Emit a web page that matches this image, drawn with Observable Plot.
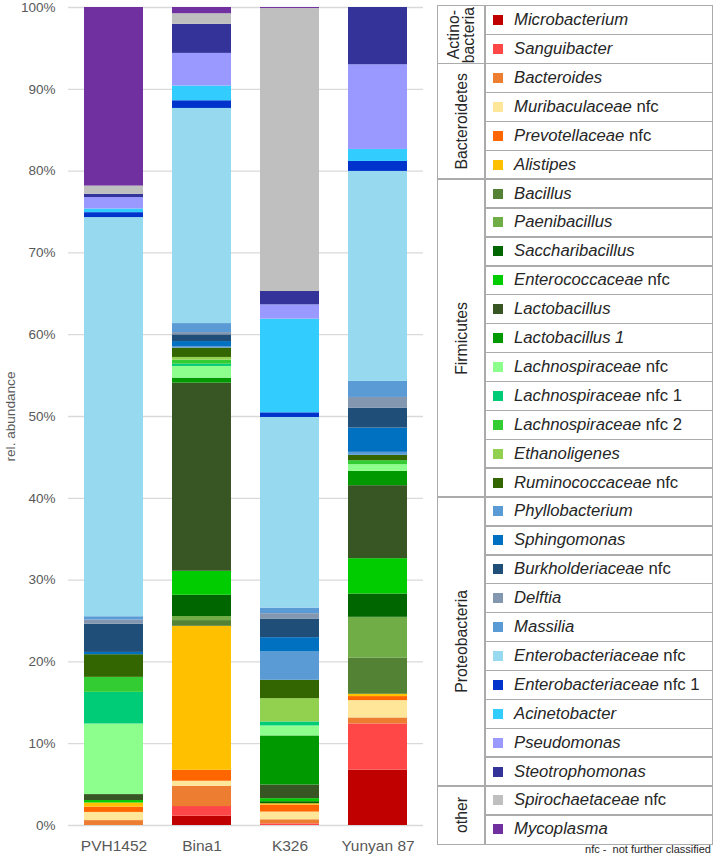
<!DOCTYPE html>
<html>
<head>
<meta charset="utf-8">
<script src="https://cdn.jsdelivr.net/npm/d3@7"></script>
<script src="https://cdn.jsdelivr.net/npm/@observablehq/plot@0.6"></script>
<style>
  body { margin: 0; background: #fff; font-family: "Liberation Sans", Arial, sans-serif; }
  #wrap { position: relative; width: 717px; height: 857px; overflow: hidden; }
  #chart { position: absolute; left: 0; top: 0; }
  .cell { position: absolute; box-sizing: border-box; border: 1.5px solid #ababab; }
  .item { display: flex; align-items: center; font-size: 16.7px; color: #262626; white-space: nowrap; }
  .sw { width: 10px; height: 10px; margin-left: 8px; margin-right: 11px; flex: none; }
  .grp { display: flex; align-items: center; justify-content: center; }
  .grp span { writing-mode: vertical-rl; transform: rotate(180deg); font-size: 15.8px; color: #262626; text-align: center; line-height: 15px; }
  #note { position: absolute; right: 6px; top: 843px; font-size: 11px; color: #262626; white-space: pre; }
</style>
</head>
<body>
<div id="wrap">
  <div id="chart"></div>
  <div id="legend"></div>
  <div id="note">nfc -  not further classified</div>
</div>
<script>
const samples = ["PVH1452", "Bina1", "K326", "Yunyan 87"];

const taxa = [
  "Microbacterium", "Sanguibacter",
  "Bacteroides", "Muribaculaceae nfc", "Prevotellaceae nfc", "Alistipes",
  "Bacillus", "Paenibacillus", "Saccharibacillus", "Enterococcaceae nfc", "Lactobacillus", "Lactobacillus 1",
  "Lachnospiraceae nfc", "Lachnospiraceae nfc 1", "Lachnospiraceae nfc 2", "Ethanoligenes", "Ruminococcaceae nfc",
  "Phyllobacterium", "Sphingomonas", "Burkholderiaceae nfc", "Delftia", "Massilia", "Enterobacteriaceae nfc",
  "Enterobacteriaceae nfc 1", "Acinetobacter", "Pseudomonas", "Steotrophomonas",
  "Spirochaetaceae nfc", "Mycoplasma"
];

const colors = [
  "#C00000", "#FF4747",
  "#ED7D31", "#FFE699", "#FF6600", "#FFC000",
  "#548235", "#70AD47", "#006600", "#00CC00", "#375623", "#009900",
  "#8CFF8C", "#00CC77", "#33CC33", "#92D050", "#336600",
  "#5B9BD5", "#0070C0", "#1F4E79", "#8497B0", "#5B9BD5", "#97D9EF",
  "#0033CC", "#33CCFF", "#9999FF", "#333399",
  "#BFBFBF", "#7030A0"
];

const phyla = ["Actino-\nbacteria", "Bacteroidetes", "Firmicutes", "Proteobacteria", "other"];
const phylumSizes = [2, 4, 11, 10, 2];

// relative abundance (%) per sample, in the order of `taxa`
const PVH1452 = [0, 0, 0.6, 1.0, 0.65, 0.5, 0, 0, 0, 0.3, 0.73, 0, 8.63, 3.87, 1.83, 0, 2.77, 0, 0.28, 3.46, 0.5, 0.4, 48.8, 0.6, 0.45, 1.4, 0.4, 1.0, 21.83];
const Bina1   = [1.14, 1.18, 2.48, 0.61, 1.34, 17.6, 0.7, 0.5, 2.6, 2.93, 23.0, 0.61, 1.43, 0.28, 0.49, 0.33, 1.14, 0.2, 0.6, 0.82, 0.28, 1.1, 26.3, 0.94, 1.8, 3.99, 3.55, 1.3, 0.76];
const K326    = [0, 0.2, 0.5, 0.94, 0.86, 0.16, 0, 0, 0.25, 0.37, 1.67, 6.0, 1.22, 0.49, 0, 2.85, 2.24, 3.46, 1.75, 2.28, 0.65, 0.69, 23.3, 0.57, 11.45, 1.75, 1.63, 34.6, 0.12];
const Yunyan87 = [6.76, 5.66, 0.73, 2.12, 0.49, 0.28, 4.44, 4.97, 2.85, 4.32, 8.92, 1.75, 0.82, 0, 0.49, 0, 0.65, 0.37, 2.97, 2.44, 1.3, 1.96, 25.67, 1.22, 1.47, 10.35, 7.0, 0, 0];

const yTicks = [0, 10, 20, 30, 40, 50, 60, 70, 80, 90, 100];

const series = [PVH1452, Bina1, K326, Yunyan87];
const data = [];
samples.forEach((s, i) => taxa.forEach((t, j) => data.push({sample: s, taxon: t, value: series[i][j]})));

const chart = Plot.plot({
  width: 430,
  height: 857,
  marginTop: 7,
  marginBottom: 32,
  marginLeft: 68,
  marginRight: 7,
  style: {fontFamily: "'Liberation Sans', Arial, sans-serif", fontSize: "13.5px", color: "#595959", background: "transparent"},
  x: {domain: samples, paddingInner: 0.333, paddingOuter: 0.1665, label: null},
  y: {domain: [0, 100], label: null},
  color: {domain: taxa, range: colors},
  marks: [
    Plot.gridY(yTicks, {stroke: "#d9d9d9", strokeOpacity: 1, strokeWidth: 1.3}),
    Plot.barY(data, {x: "sample", y: "value", fill: "taxon", order: taxa}),
    Plot.axisY({ticks: yTicks, tickSize: 0, tickPadding: 13, tickFormat: d => d + "%", label: null, fill: "#595959"}),
    Plot.axisX({tickSize: 0, tickPadding: 14, fontSize: 15.5, label: null, fill: "#595959"}),
    Plot.text(["rel. abundance"], {frameAnchor: "left", textAnchor: "middle", dx: -58, rotate: -90, fontSize: 13.6, fill: "#595959"})
  ]
});
document.getElementById("chart").appendChild(chart);

// legend table
const legend = d3.select("#legend");
const L = 437, T = 5, GW = 47, W = 276, RH = 28.9;
let row = 0;
phyla.forEach((p, gi) => {
  const n = phylumSizes[gi];
  const g = legend.append("div").attr("class", "cell grp")
    .style("left", L + "px").style("top", (T + row * RH) + "px")
    .style("width", (GW + 1.5) + "px").style("height", (n * RH + 1.5) + "px");
  const sp = g.append("span");
  p.split("\n").forEach((line, k) => { if (k) sp.append("br"); sp.append("tspan").text(line); });
  row += n;
});
taxa.forEach((t, i) => {
  const c = legend.append("div").attr("class", "cell item")
    .style("left", (L + GW) + "px").style("top", (T + i * RH) + "px")
    .style("width", (W - GW) + "px").style("height", (RH + 1.5) + "px");
  c.append("div").attr("class", "sw").style("background", colors[i]);
  const lab = c.append("div");
  const k = t.indexOf(" nfc");
  if (k >= 0) {
    lab.append("i").text(t.slice(0, k));
    lab.append("span").text(t.slice(k));
  } else {
    lab.append("i").text(t);
  }
});
</script>
</body>
</html>
